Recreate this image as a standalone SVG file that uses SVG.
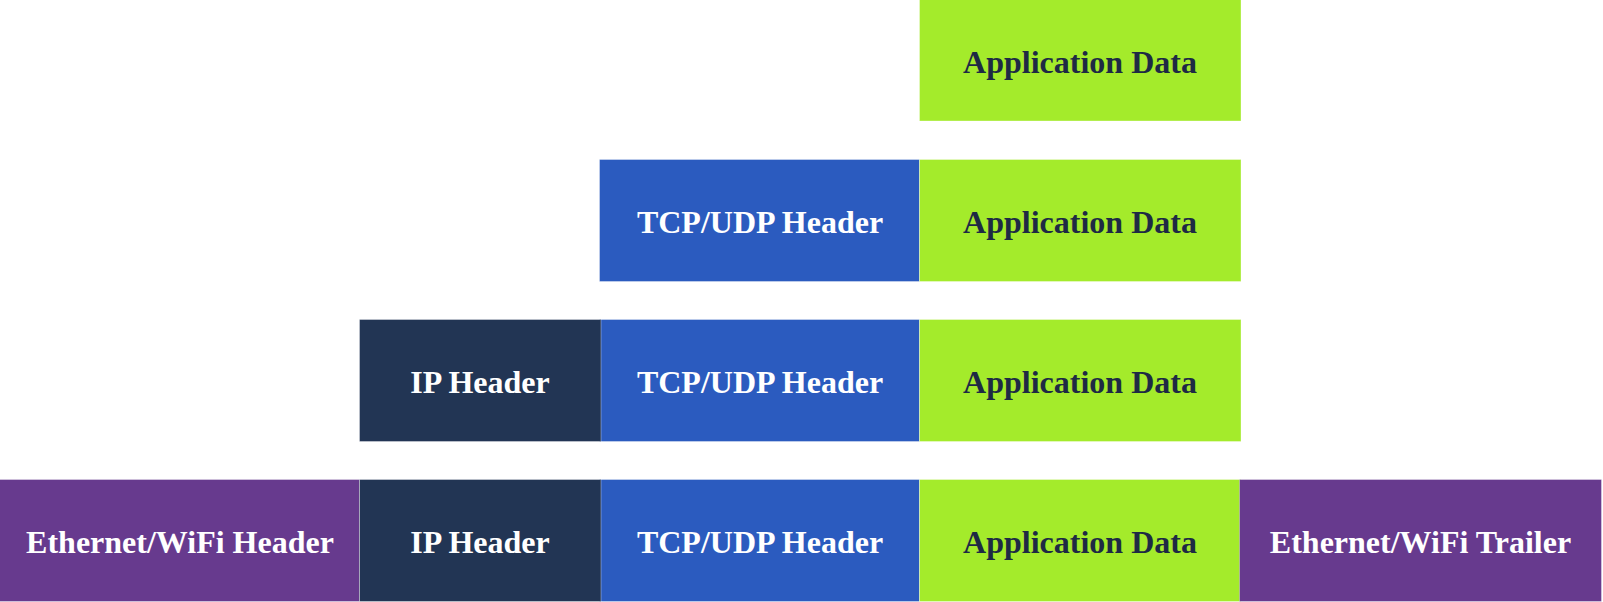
<svg xmlns="http://www.w3.org/2000/svg" width="1603" height="602" viewBox="0 0 1603 602">
  <style>
    .box { stroke: #ffffff; stroke-opacity: 0.35; stroke-width: 1; }
    .app { fill: #a4eb2b; }
    .tcp { fill: #2b5bbf; }
    .ip { fill: #223554; }
    .eth { fill: #673a8e; }
    .lbl { font-family: "Liberation Serif", "Times New Roman", serif; font-weight: bold; font-size: 32px; text-anchor: middle; }
    .light { fill: #ffffff; }
    .dark { fill: #1e2a44; }
  </style>
  <rect width="1603" height="602" fill="#ffffff"/>
  <g id="row1">
    <g id="r1-app"><rect class="box app" x="919.5" y="-1" width="321.5" height="122"/><text class="lbl dark" x="1080" y="72.5">Application Data</text></g>
  </g>
  <g id="row2">
    <g id="r2-tcp"><rect class="box tcp" x="599.5" y="159.5" width="320" height="122"/><text class="lbl light" x="760" y="233">TCP/UDP Header</text></g>
    <g id="r2-app"><rect class="box app" x="919.5" y="159.5" width="321.5" height="122"/><text class="lbl dark" x="1080" y="233">Application Data</text></g>
  </g>
  <g id="row3">
    <g id="r3-tcp"><rect class="box tcp" x="599.5" y="319.5" width="320" height="122"/><text class="lbl light" x="760" y="393">TCP/UDP Header</text></g>
    <g id="r3-ip"><rect class="box ip" x="359.5" y="319.5" width="241.5" height="122"/><text class="lbl light" x="480" y="393">IP Header</text></g>
    <g id="r3-app"><rect class="box app" x="919.5" y="319.5" width="321.5" height="122"/><text class="lbl dark" x="1080" y="393">Application Data</text></g>
  </g>
  <g id="row4">
    <g id="r4-eth"><rect class="box eth" x="-1" y="479.5" width="360.5" height="122"/><text class="lbl light" x="180" y="553">Ethernet/WiFi Header</text></g>
    <g id="r4-tcp"><rect class="box tcp" x="599.5" y="479.5" width="320" height="122"/><text class="lbl light" x="760" y="553">TCP/UDP Header</text></g>
    <g id="r4-ip"><rect class="box ip" x="359.5" y="479.5" width="241.5" height="122"/><text class="lbl light" x="480" y="553">IP Header</text></g>
    <g id="r4-app"><rect class="box app" x="919.5" y="479.5" width="321.5" height="122"/><text class="lbl dark" x="1080" y="553">Application Data</text></g>
    <g id="r4-trl"><rect class="box eth" x="1239.5" y="479.5" width="362" height="122"/><text class="lbl light" x="1420.5" y="553">Ethernet/WiFi Trailer</text></g>
  </g>
  <g id="connectors"></g>
</svg>
